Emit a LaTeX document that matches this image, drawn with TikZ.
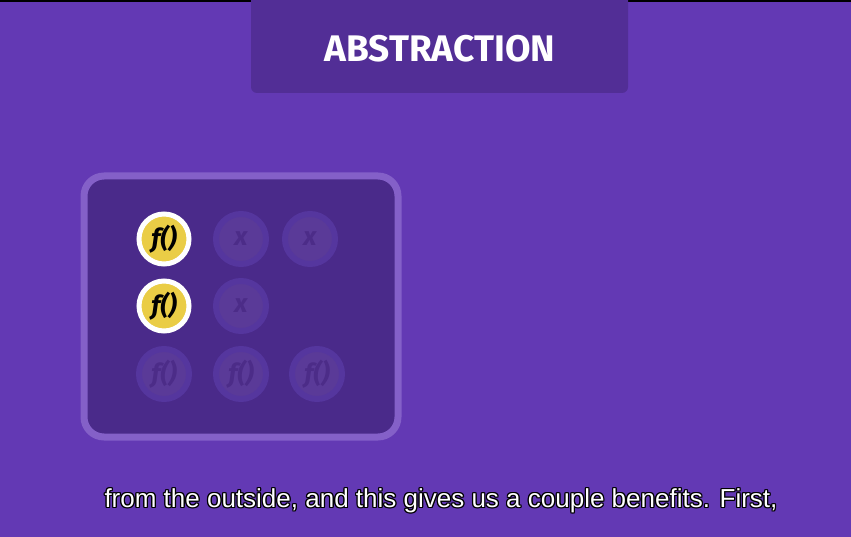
\documentclass[tikz,border=0pt]{standalone}
\usepackage{fontspec}
\newfontfamily\titlefont{Fira Sans}
\newfontfamily\capfont{Liberation Sans}
\usepackage{tikz}
\usetikzlibrary{positioning}
\definecolor{bgpurple}{HTML}{6339B4}
\definecolor{hdpurple}{HTML}{522E96}
\definecolor{panelfill}{HTML}{4A2A8A}
\definecolor{panelrim}{HTML}{8460C8}
\definecolor{fnyellow}{HTML}{EACD46}
\definecolor{ghostring}{HTML}{55369E}
\definecolor{ghostfill}{HTML}{5A3A98}
\definecolor{ghosttext}{HTML}{4C2C88}

\begin{document}
\begin{tikzpicture}[x=1pt,y=-1pt,
      live/.style={circle,draw=white,line width=5pt,fill=fnyellow,
                   minimum size=50pt,inner sep=0pt,
                   font=\titlefont\fontsize{26}{26}\selectfont\bfseries\itshape},
      ghost/.style={circle,draw=ghostring,line width=6pt,fill=ghostfill,
                    minimum size=50pt,inner sep=0pt,text=ghosttext,
                    font=\titlefont\fontsize{26}{26}\selectfont\bfseries\itshape},
      capstyle/.style={font=\capfont\fontsize{26}{26}\selectfont}]
    \useasboundingbox (0,0) rectangle (851,537);
    \fill[bgpurple] (0,0) rectangle (851,537);
    \fill[black] (0,0) rectangle (851,2);
    % heading tab
    \fill[hdpurple,rounded corners=6pt] (251,-10) rectangle (628,93);
    \node[text=white,font=\titlefont\fontsize{37}{37}\selectfont\bfseries]
      (head) at (440,49) {ABSTRACTION};
    % panel
    \draw[panelrim,line width=7pt,fill=panelfill,rounded corners=20pt]
      (84,176) rectangle (398,437);
    % row 1
    \node[live] (r1a) at (164,239) {f()};
    \node[ghost] (r1b) at (241,239) {x};
    \node[ghost] (r1c) at (310,239) {x};
    % row 2
    \node[live] (r2a) at (164,306) {f()};
    \node[ghost] (r2b) at (241,306) {x};
    % row 3
    \foreach \n/\x in {a/164,b/241,c/317} {
      \node[ghost] (r3\n) at (\x,374) {f()};}
    % caption with dark rim
    \foreach \dx/\dy in {-1.2/0,1.2/0,0/-1.2,0/1.2,-1/-1,1/1,-1/1,1/-1} {
      \node[capstyle,text=black] at (441+\dx,501+\dy)
        {from the outside, and this gives us a couple benefits. First,};}
    \node[capstyle,text=white] (cap) at (441,501)
      {from the outside, and this gives us a couple benefits. First,};
  \end{tikzpicture}
\end{document}
